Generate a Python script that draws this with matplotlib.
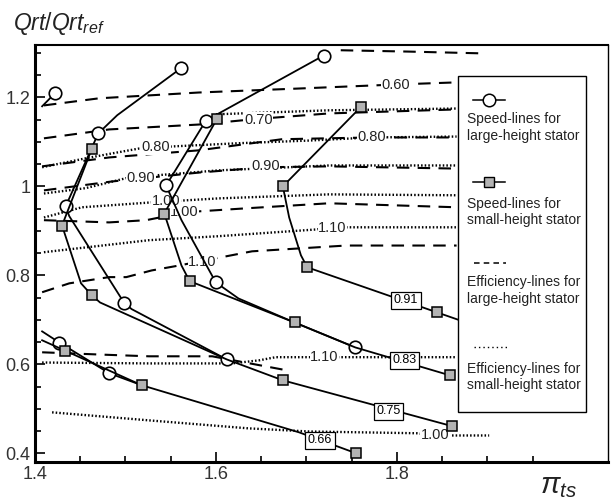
import numpy as np
import matplotlib.pyplot as plt
import matplotlib.ticker as mtick
from matplotlib.patches import Rectangle
from matplotlib.lines import Line2D

plt.rcParams['font.family'] = ['Liberation Sans', 'DejaVu Sans']
plt.rcParams['mathtext.fontset'] = 'custom'
plt.rcParams['mathtext.it'] = 'Liberation Sans:italic'
plt.rcParams['mathtext.rm'] = 'Liberation Sans'
plt.rcParams['lines.scale_dashes'] = False

# ---------------- speed lines, large-height stator (circles)
large_066_top_x = [1.408, 1.422]
large_066_top_y = [1.180, 1.209]
large_066_top_marks = [1]
large_066_x = [1.408, 1.427, 1.482, 1.518]
large_066_y = [0.674, 0.649, 0.580, 0.553]
large_066_marks = [1, 2]
large_075_x = [1.561, 1.491, 1.470, 1.434, 1.438, 1.499, 1.507, 1.612]
large_075_y = [1.265, 1.160, 1.119, 0.955, 0.933, 0.737, 0.724, 0.611]
large_075_marks = [0, 2, 3, 5, 7]
large_083_x = [1.719, 1.589, 1.545, 1.562, 1.600, 1.625, 1.687, 1.754]
large_083_y = [1.294, 1.148, 1.002, 0.924, 0.784, 0.748, 0.694, 0.638]
large_083_marks = [0, 1, 2, 4, 7]

# ---------------- speed lines, small-height stator (squares)
small_066_x = [1.408, 1.433, 1.518, 1.692, 1.755]
small_066_y = [0.654, 0.631, 0.553, 0.447, 0.400]
small_066_marks = [1, 2, 4]
small_075_x = [1.463, 1.430, 1.451, 1.463, 1.472, 1.612, 1.674, 1.861]
small_075_y = [1.085, 0.912, 0.782, 0.755, 0.739, 0.611, 0.564, 0.461]
small_075_marks = [0, 1, 3, 6, 7]
small_083_x = [1.601, 1.543, 1.562, 1.571, 1.687, 1.754, 1.859]
small_083_y = [1.151, 0.939, 0.822, 0.787, 0.694, 0.638, 0.575]
small_083_marks = [0, 1, 3, 4, 6]
small_091_x = [1.760, 1.674, 1.681, 1.694, 1.701, 1.844, 1.902]
small_091_y = [1.178, 1.000, 0.930, 0.845, 0.818, 0.717, 0.676]
small_091_marks = [0, 1, 4, 5]

# labels of the speed lines (boxed)
speed_labels = ['0.66', '0.75', '0.83', '0.91']
speed_label_x = [1.715, 1.791, 1.808, 1.810]
speed_label_y = [0.429, 0.494, 0.609, 0.744]

# ---------------- efficiency lines, large-height stator (dashed)
eff_large_050_x = [1.738, 1.813, 1.894]
eff_large_050_y = [1.306, 1.303, 1.299]
eff_large_060_x = [1.410, 1.471, 1.581, 1.692, 1.799, 1.869]
eff_large_060_y = [1.182, 1.198, 1.211, 1.220, 1.229, 1.234]
eff_large_070_x = [1.410, 1.482, 1.581, 1.642, 1.725, 1.866]
eff_large_070_y = [1.108, 1.128, 1.139, 1.151, 1.164, 1.173]
eff_large_080_x = [1.408, 1.482, 1.581, 1.673, 1.772, 1.866]
eff_large_080_y = [1.045, 1.065, 1.081, 1.106, 1.110, 1.110]
eff_large_090_x = [1.410, 1.485, 1.581, 1.655, 1.725, 1.866]
eff_large_090_y = [0.991, 1.011, 1.031, 1.043, 1.045, 1.040]
eff_large_100_x = [1.410, 1.482, 1.523, 1.567, 1.636, 1.725, 1.866]
eff_large_100_y = [0.924, 0.919, 0.924, 0.942, 0.951, 0.962, 0.953]
eff_large_110_x = [1.408, 1.438, 1.482, 1.501, 1.529, 1.559, 1.589, 1.640, 1.744, 1.866]
eff_large_110_y = [0.762, 0.782, 0.796, 0.796, 0.811, 0.822, 0.834, 0.854, 0.867, 0.867]
eff_large_low_x = [1.408, 1.471, 1.526, 1.596, 1.614, 1.677]
eff_large_low_y = [0.627, 0.622, 0.618, 0.618, 0.611, 0.587]

# ---------------- efficiency lines, small-height stator (dotted)
eff_small_070_x = [1.600, 1.725, 1.866]
eff_small_070_y = [1.162, 1.171, 1.175]
eff_small_080_x = [1.408, 1.456, 1.485, 1.515, 1.554, 1.625, 1.703, 1.772, 1.866]
eff_small_080_y = [1.043, 1.063, 1.074, 1.085, 1.090, 1.097, 1.103, 1.110, 1.112]
eff_small_090_x = [1.410, 1.456, 1.504, 1.603, 1.725, 1.866]
eff_small_090_y = [0.984, 0.996, 1.020, 1.036, 1.047, 1.047]
eff_small_100_x = [1.410, 1.452, 1.529, 1.603, 1.725, 1.866]
eff_small_100_y = [0.930, 0.953, 0.964, 0.973, 0.982, 0.980]
eff_small_110_x = [1.410, 1.526, 1.603, 1.710, 1.728, 1.866]
eff_small_110_y = [0.852, 0.879, 0.888, 0.903, 0.908, 0.908]
eff_small_110b_x = [1.408, 1.526, 1.618, 1.648, 1.666, 1.722, 1.866]
eff_small_110b_y = [0.604, 0.602, 0.602, 0.609, 0.616, 0.616, 0.616]
eff_small_100b_x = [1.419, 1.526, 1.636, 1.703, 1.822, 1.843, 1.902]
eff_small_100b_y = [0.492, 0.474, 0.456, 0.449, 0.445, 0.440, 0.440]

# inline labels of the efficiency lines
eff_labels = ['0.60', '0.70', '0.80', '0.90', '1.00', '1.10',
              '0.80', '0.90', '1.00', '1.10', '1.10', '1.00']
eff_label_x = [1.799, 1.647, 1.772, 1.655, 1.565, 1.585,
               1.534, 1.517, 1.545, 1.729, 1.720, 1.842]
eff_label_y = [1.229, 1.150, 1.110, 1.045, 0.942, 0.831,
               1.088, 1.018, 0.966, 0.906, 0.616, 0.440]

fig = plt.figure(figsize=(6.12, 5.04), dpi=100)
ax = fig.add_axes([0.057, 0.083, 0.936, 0.827])

dash = (0, (9, 6))
dot = (0, (1.1, 1.5))

for x, y in [(eff_large_050_x, eff_large_050_y), (eff_large_060_x, eff_large_060_y),
             (eff_large_070_x, eff_large_070_y), (eff_large_080_x, eff_large_080_y),
             (eff_large_090_x, eff_large_090_y), (eff_large_100_x, eff_large_100_y),
             (eff_large_110_x, eff_large_110_y), (eff_large_low_x, eff_large_low_y)]:
    ax.plot(x, y, color='black', lw=1.5, linestyle=dash, zorder=2)

for x, y in [(eff_small_070_x, eff_small_070_y), (eff_small_080_x, eff_small_080_y),
             (eff_small_090_x, eff_small_090_y), (eff_small_100_x, eff_small_100_y),
             (eff_small_110_x, eff_small_110_y), (eff_small_110b_x, eff_small_110b_y),
             (eff_small_100b_x, eff_small_100b_y)]:
    ax.plot(x, y, color='black', lw=1.7, linestyle=dot, zorder=2)

for lab, x, y in zip(eff_labels, eff_label_x, eff_label_y):
    ax.text(x, y, lab, fontsize=10.5, ha='center', va='center', color='#222222', zorder=4,
            bbox=dict(facecolor='white', edgecolor='none', pad=0.3))

# speed lines
for x, y, m in [(large_066_top_x, large_066_top_y, large_066_top_marks),
                (large_066_x, large_066_y, large_066_marks),
                (large_075_x, large_075_y, large_075_marks),
                (large_083_x, large_083_y, large_083_marks)]:
    ax.plot(x, y, '-', color='black', lw=1.3, marker='o', ms=9, mfc='white', mec='black',
            mew=1.2, markevery=m, zorder=5)

for x, y, m in [(small_066_x, small_066_y, small_066_marks),
                (small_075_x, small_075_y, small_075_marks),
                (small_083_x, small_083_y, small_083_marks),
                (small_091_x, small_091_y, small_091_marks)]:
    ax.plot(x, y, '-', color='black', lw=1.3, marker='s', ms=6.5, mfc='#b3b3b3', mec='black',
            mew=1.1, markevery=m, zorder=5)

for lab, x, y in zip(speed_labels, speed_label_x, speed_label_y):
    ax.text(x, y, lab, fontsize=9, ha='center', va='center', zorder=6,
            bbox=dict(facecolor='white', edgecolor='black', lw=0.9, boxstyle='square,pad=0.2'))

ax.set_xlim(1.4, 2.033)
ax.set_ylim(0.38, 1.317)

ax.xaxis.set_major_locator(mtick.FixedLocator([1.4, 1.6, 1.8]))
ax.xaxis.set_minor_locator(mtick.FixedLocator(np.arange(1.45, 1.96, 0.05)))
ax.yaxis.set_major_locator(mtick.MultipleLocator(0.2))
ax.yaxis.set_minor_locator(mtick.MultipleLocator(0.05))
ax.yaxis.set_major_formatter(mtick.FormatStrFormatter('%g'))
ax.xaxis.set_major_formatter(mtick.FormatStrFormatter('%g'))

ax.tick_params(which='both', direction='in', top=False, right=False, labelsize=13, width=1.2)
ax.tick_params(which='major', length=7, pad=3)
ax.tick_params(which='minor', length=4)
for lab in ax.get_xticklabels() + ax.get_yticklabels():
    lab.set_color('#333333')

ax.spines['left'].set_linewidth(2.2)
ax.spines['bottom'].set_linewidth(2.2)
ax.spines['top'].set_linewidth(1.5)
ax.spines['right'].set_linewidth(1.0)

# legend box drawn by hand (handles above the text, like the original)
ax.add_patch(Rectangle((0.738, 0.120), 0.224, 0.806, transform=ax.transAxes,
                       facecolor='white', edgecolor='black', lw=1.0, zorder=10))
ax.add_line(Line2D([0.764, 0.820], [0.870, 0.870], transform=ax.transAxes, color='black',
                   lw=1.1, zorder=11))
ax.plot([0.792], [0.870], transform=ax.transAxes, marker='o', ms=9, mfc='white',
        mec='black', mew=1.1, zorder=12)
ax.add_line(Line2D([0.764, 0.820], [0.671, 0.671], transform=ax.transAxes, color='black',
                   lw=1.1, zorder=11))
ax.plot([0.792], [0.671], transform=ax.transAxes, marker='s', ms=6.5, mfc='#b3b3b3',
        mec='black', mew=1.0, zorder=12)
ax.add_line(Line2D([0.766, 0.822], [0.477, 0.477], transform=ax.transAxes, color='black',
                   lw=1.1, linestyle=(0, (4, 3)), zorder=11))
ax.add_line(Line2D([0.766, 0.824], [0.276, 0.276], transform=ax.transAxes, color='black',
                   lw=1.0, linestyle=(0, (1, 2.2)), zorder=11))

legend_texts = ['Speed-lines for\nlarge-height stator', 'Speed-lines for\nsmall-height stator',
                'Efficiency-lines for\nlarge-height stator', 'Efficiency-lines for\nsmall-height stator']
legend_text_y = [0.803, 0.600, 0.412, 0.204]
for t, y in zip(legend_texts, legend_text_y):
    ax.text(0.754, y, t, transform=ax.transAxes, fontsize=10, ha='left', va='center',
            color='#222222', linespacing=1.2, zorder=12)

fig.text(0.021, 0.954, r'$Qrt/Qrt_{ref}$', fontsize=16.5, ha='left', va='center', color='#222222')
fig.text(0.882, 0.035, r'$\pi_{ts}$', fontsize=21, ha='left', va='center', color='#222222')

fig.savefig('out.png', dpi=100)
